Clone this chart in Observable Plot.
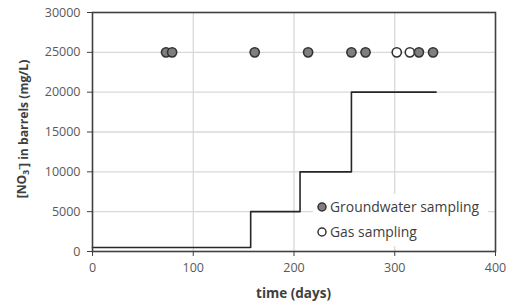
<!DOCTYPE html>
<html>
<head>
<meta charset="utf-8">
<script src="https://cdn.jsdelivr.net/npm/d3@7"></script>
<script src="https://cdn.jsdelivr.net/npm/@observablehq/plot@0.6"></script>
<style>
  html, body { margin: 0; padding: 0; background: #fff; }
  #chart { width: 506px; height: 304px; }
</style>
</head>
<body>
<div id="chart"></div>
<script>
// Step line: NO3- concentration in barrels (mg/L) vs time (days)
const stepDays = [0, 157, 206, 257, 341];
const stepConc = [500, 5000, 10000, 20000, 20000];

// Sampling events (plotted at a constant level)
const groundwaterDays = [73, 79, 161, 214, 257, 271, 324, 338];
const gasDays = [302, 315];
const samplingLevel = 25000;

const xTicks = [0, 100, 200, 300, 400];
const yTicks = [0, 5000, 10000, 15000, 20000, 25000, 30000];

const legendLabels = ["Groundwater sampling", "Gas sampling"];
const xTitle = "time (days)";

const stepData = stepDays.map((d, i) => ({x: d, y: stepConc[i]}));
const gwData = groundwaterDays.map(d => ({x: d, y: samplingLevel}));
const gasData = gasDays.map(d => ({x: d, y: samplingLevel}));

const W = 506, H = 304;
const mL = 92, mR = 11, mT = 12, mB = 53;

const plot = Plot.plot({
  width: W,
  height: H,
  marginLeft: mL,
  marginRight: mR,
  marginTop: mT,
  marginBottom: mB,
  style: {fontFamily: "'Open Sans', sans-serif", fontSize: "12.5px", color: "#595959", background: "#fff"},
  x: {domain: [0, 400], ticks: xTicks, label: null},
  y: {domain: [0, 30000], ticks: yTicks, label: null},
  marks: [
    Plot.ruleX(xTicks.slice(1, -1), {stroke: "#d9d9d9", strokeWidth: 1.3}),
    Plot.ruleY(yTicks.slice(1, -1), {stroke: "#d9d9d9", strokeWidth: 1.3}),
    Plot.axisX({ticks: xTicks, tickSize: 5, tickPadding: 7, stroke: "#404040", fill: "#595959", fontSize: 12.5, label: null}),
    Plot.axisY({ticks: yTicks, tickSize: 5, tickPadding: 7, stroke: "#404040", fill: "#595959", fontSize: 12.5, label: null, tickFormat: d => String(d)}),
    Plot.line(stepData, {x: "x", y: "y", curve: "step-after", stroke: "#262626", strokeWidth: 1.6}),
    Plot.dot(gasData, {x: "x", y: "y", r: 4.6, fill: "#ffffff", stroke: "#333333", strokeWidth: 1.6}),
    Plot.dot(gwData, {x: "x", y: "y", r: 4.6, fill: "#7f7f7f", stroke: "#333333", strokeWidth: 1.6}),
    Plot.frame({stroke: "#404040", strokeWidth: 1.6})
  ]
});

document.getElementById("chart").appendChild(plot);

const svg = d3.select(plot);
svg.style("overflow", "visible");

// Legend (inside plot area, white box over gridlines)
const lg = svg.append("g")
  .attr("font-family", "'Open Sans', sans-serif")
  .attr("text-anchor", "start");
lg.append("rect").attr("x", 313).attr("y", 194).attr("width", 175).attr("height", 52).attr("fill", "#fff");
const items = [
  {label: legendLabels[0], fill: "#7f7f7f", y: 207},
  {label: legendLabels[1], fill: "#ffffff", y: 232}
];
items.forEach(it => {
  lg.append("circle").attr("cx", 322).attr("cy", it.y).attr("r", 4)
    .attr("fill", it.fill).attr("stroke", "#333").attr("stroke-width", 1.5);
  lg.append("text").attr("x", 330).attr("y", it.y).attr("dy", "0.35em")
    .attr("text-anchor", "start")
    .attr("font-size", 13.9).attr("fill", "#404040").text(it.label);
});

// Axis titles
svg.append("text")
  .attr("x", (mL + (W - mR)) / 2).attr("y", 293).attr("dy", "0.35em")
  .attr("text-anchor", "middle").attr("font-family", "'Open Sans', sans-serif")
  .attr("font-weight", "bold").attr("font-size", 13.5).attr("fill", "#404040")
  .text(xTitle);

const yt = svg.append("text")
  .attr("transform", "translate(22,129) rotate(-90)")
  .attr("text-anchor", "middle").attr("dy", "0.35em")
  .attr("font-family", "'Open Sans', sans-serif")
  .attr("font-weight", "bold").attr("font-size", 12.2).attr("fill", "#404040");
yt.append("tspan").text("[NO");
yt.append("tspan").attr("font-size", 8.5).attr("dy", "0.3em").text("3");
yt.append("tspan").attr("font-size", 8.5).attr("dy", "-0.85em").text("-");
yt.append("tspan").attr("dy", "0.55em").text("] in barrels (mg/L)");
</script>
</body>
</html>
